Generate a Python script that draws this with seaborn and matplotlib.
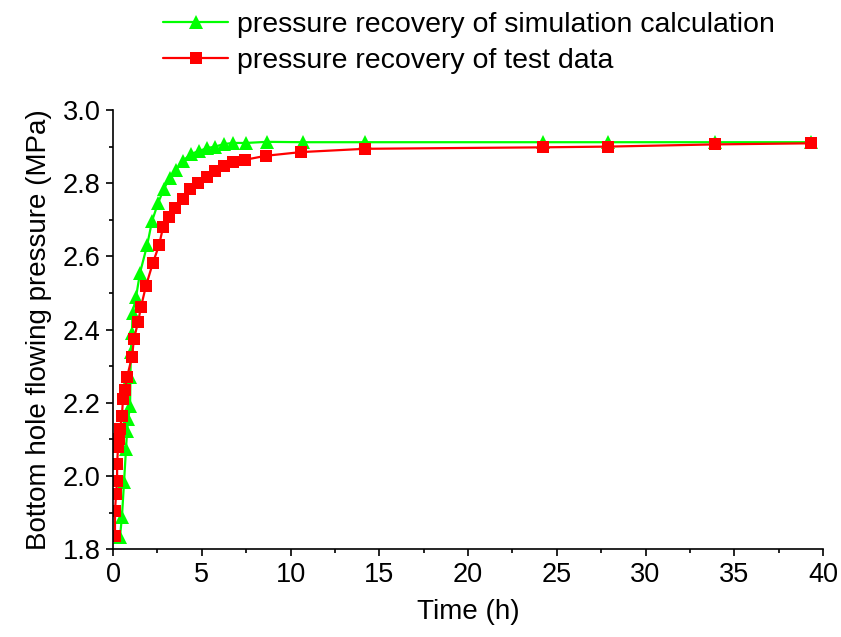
import numpy as np
import pandas as pd
import matplotlib
matplotlib.use('Agg')
import matplotlib.pyplot as plt
import seaborn as sns
from matplotlib.ticker import MultipleLocator

# 模拟计算的压力恢复
sim_time = [0.39, 0.50, 0.62, 0.73, 0.79, 0.85, 0.96, 0.98, 1.0, 1.07, 1.10,
            1.30, 1.52, 1.92, 2.20, 2.54, 2.87, 3.21, 3.55, 3.94, 4.39, 4.85,
            5.30, 5.75, 6.25, 6.76, 7.49, 8.68, 10.7, 14.2, 24.2, 27.9, 33.9, 39.3]
sim_pressure = [1.833, 1.887, 1.983, 2.073, 2.122, 2.155, 2.19, 2.27, 2.34, 2.39, 2.446,
                2.49, 2.555, 2.63, 2.697, 2.746, 2.785, 2.815, 2.836, 2.861, 2.88, 2.888,
                2.896, 2.90, 2.907, 2.91, 2.91, 2.913, 2.912, 2.912, 2.912, 2.912, 2.912, 2.912]

# 试井数据的压力恢复
test_time = [0.11, 0.11, 0.17, 0.23, 0.23, 0.28, 0.34, 0.39, 0.50, 0.56, 0.68, 0.79,
             1.07, 1.18, 1.41, 1.58, 1.86, 2.25, 2.59, 2.82, 3.15, 3.49, 3.94, 4.34,
             4.79, 5.30, 5.75, 6.25, 6.76, 7.44, 8.62, 10.6, 14.2, 24.2, 27.9, 33.9, 39.3]
test_pressure = [1.835, 1.904, 1.95, 1.986, 2.032, 2.078, 2.10, 2.127, 2.163, 2.21, 2.236, 2.27,
                 2.326, 2.375, 2.42, 2.463, 2.52, 2.583, 2.63, 2.68, 2.708, 2.733, 2.757, 2.785,
                 2.80, 2.817, 2.834, 2.847, 2.858, 2.864, 2.875, 2.885, 2.894, 2.898, 2.90, 2.906, 2.909]

sim_label = 'pressure recovery of simulation calculation'
test_label = 'pressure recovery of test data'

sns.set_style('ticks')
plt.rcParams['font.family'] = ['Liberation Sans', 'DejaVu Sans']
plt.rcParams['axes.unicode_minus'] = False
plt.rcParams['text.color'] = 'black'
plt.rcParams['axes.labelcolor'] = 'black'

df_sim = pd.DataFrame({'Time': sim_time, 'Pressure': sim_pressure})
df_test = pd.DataFrame({'Time': test_time, 'Pressure': test_pressure})

fig = plt.figure(figsize=(8.41, 6.37), dpi=100)
ax = fig.add_axes([0.1344, 0.138, 0.8442, 0.6893])

sns.lineplot(data=df_sim, x='Time', y='Pressure', ax=ax, sort=False, estimator=None,
             color='#00FF00', marker='^', markersize=10, markeredgewidth=0,
             linewidth=1.6, label=sim_label)
sns.lineplot(data=df_test, x='Time', y='Pressure', ax=ax, sort=False, estimator=None,
             color='#FF0000', marker='s', markersize=8, markeredgewidth=0,
             linewidth=1.6, label=test_label)

ax.set_xlim(0, 40)
ax.set_ylim(1.8, 3.0)
ax.xaxis.set_major_locator(MultipleLocator(5))
ax.xaxis.set_minor_locator(MultipleLocator(2.5))
ax.yaxis.set_major_locator(MultipleLocator(0.2))
ax.yaxis.set_minor_locator(MultipleLocator(0.1))
ax.yaxis.set_major_formatter(matplotlib.ticker.FormatStrFormatter('%.1f'))

for side in ['top', 'right']:
    ax.spines[side].set_visible(False)
for side in ['left', 'bottom']:
    ax.spines[side].set_linewidth(1.2)
    ax.spines[side].set_color('black')

ax.tick_params(which='major', direction='out', length=5, width=1.2, labelsize=19.5,
               colors='black', pad=4)
ax.tick_params(which='minor', direction='out', length=3, width=1.2, colors='black')

ax.set_xlabel('Time (h)', fontsize=20, labelpad=8)
ax.set_ylabel('Bottom hole flowing pressure (MPa)', fontsize=20, labelpad=8)

ax.get_legend().remove()
handles, labels = ax.get_legend_handles_labels()
fig.legend(handles, labels, loc='upper left', bbox_to_anchor=(163 / 841, 1 - 12 / 637),
           frameon=False, fontsize=20.5, handlelength=2.3, handletextpad=0.3,
           labelspacing=0.36, borderpad=0, borderaxespad=0, markerscale=1.0)

fig.savefig('out.png', dpi=100)
plt.close(fig)
